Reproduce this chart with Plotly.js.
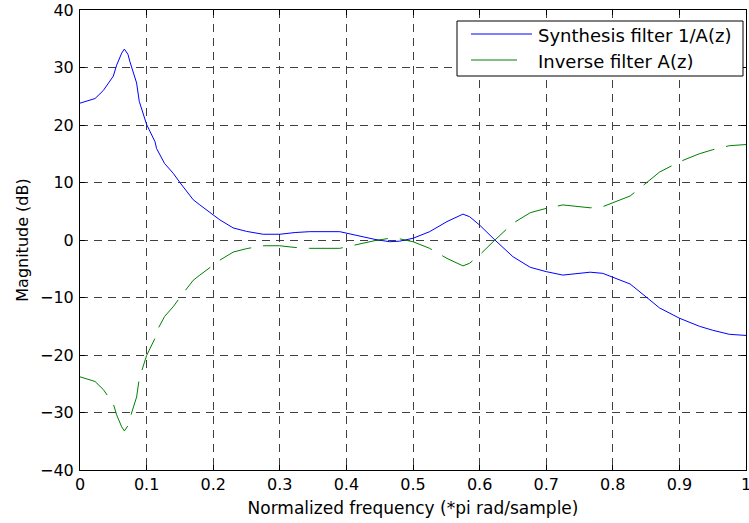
<!DOCTYPE html>
<html>
<head>
<meta charset="utf-8">
<script src="https://cdn.plot.ly/plotly-3.0.1.min.js"></script>
<style>html,body{margin:0;padding:0;background:#fff;}#chart{width:749px;height:523px;}</style>
</head>
<body>
<div id="chart"></div>
<script>
// Normalized frequency (*pi rad/sample)
var freq = [0, 0.0225, 0.035, 0.05, 0.055, 0.0626, 0.0666, 0.072, 0.075, 0.085, 0.089, 0.1, 0.1126, 0.115, 0.127, 0.14, 0.15, 0.17, 0.18, 0.2, 0.21, 0.23, 0.25, 0.275, 0.3, 0.323, 0.345, 0.39, 0.4, 0.42, 0.443, 0.465, 0.48, 0.5, 0.525, 0.551, 0.575, 0.585, 0.6, 0.623, 0.65, 0.676, 0.7, 0.725, 0.75, 0.766, 0.785, 0.8, 0.826, 0.85, 0.87, 0.9, 0.93, 0.95, 0.975, 1.0];
// Synthesis filter 1/A(z) magnitude (dB)
var synthesisDb = [23.8, 24.6, 26.0, 28.5, 30.4, 32.5, 33.2, 32.3, 31.0, 27.3, 24.1, 20.1, 17.1, 15.9, 13.3, 11.6, 10.0, 7.0, 6.1, 4.3, 3.5, 2.1, 1.5, 1.0, 1.0, 1.3, 1.45, 1.45, 1.2, 0.75, 0.1, -0.3, -0.2, 0.3, 1.45, 3.2, 4.5, 4.05, 2.6, 0.0, -2.9, -4.75, -5.5, -6.1, -5.8, -5.6, -5.8, -6.5, -7.65, -9.9, -11.8, -13.6, -15.0, -15.7, -16.4, -16.6];
// Inverse filter A(z) magnitude (dB)
var inverseDb = [-23.8, -24.6, -26.0, -28.5, -30.4, -32.5, -33.2, -32.3, -31.0, -27.3, -24.1, -20.1, -17.1, -15.9, -13.3, -11.6, -10.0, -7.0, -6.1, -4.3, -3.5, -2.1, -1.5, -1.0, -1.0, -1.3, -1.45, -1.45, -1.2, -0.75, -0.1, 0.3, 0.2, -0.3, -1.45, -3.2, -4.5, -4.05, -2.6, 0.0, 2.9, 4.75, 5.5, 6.1, 5.8, 5.6, 5.8, 6.5, 7.65, 9.9, 11.8, 13.6, 15.0, 15.7, 16.4, 16.6];
var seriesNames = ['Synthesis filter 1/A(z)', 'Inverse filter A(z)'];
var seriesColors = ['#0000ff', '#008000'];
var xTicks = [0, 0.1, 0.2, 0.3, 0.4, 0.5, 0.6, 0.7, 0.8, 0.9, 1];
var xTickText = ['0', '0.1', '0.2', '0.3', '0.4', '0.5', '0.6', '0.7', '0.8', '0.9', '1'];
var yTicks = [-40, -30, -20, -10, 0, 10, 20, 30, 40];

var font = 'DejaVu Sans, Arial, sans-serif';
var W = 749, H = 523, M = {l: 80, r: 3, t: 10, b: 53};
// pixel -> paper helpers for the hand-drawn legend box
function px(x) { return (x - M.l) / (W - M.l - M.r); }
function py(y) { return (H - M.b - y) / (H - M.t - M.b); }

var traces = [
  {x: freq, y: synthesisDb, type: 'scatter', mode: 'lines', name: seriesNames[0],
   line: {color: seriesColors[0], width: 1}},
  {x: freq, y: inverseDb, type: 'scatter', mode: 'lines', name: seriesNames[1],
   line: {color: seriesColors[1], width: 1, dash: '34px,12px'}}
];
var axisCommon = {
  showline: true, linecolor: '#000', linewidth: 1, mirror: 'ticks',
  ticks: 'inside', ticklen: 5, tickcolor: '#000', tickwidth: 1,
  showgrid: true, gridcolor: '#404040', gridwidth: 1, griddash: '8px,6px',
  zeroline: false, tickfont: {family: font, size: 16, color: '#000'}
};
var shapes = [
  {type: 'rect', xref: 'paper', yref: 'paper', x0: px(457), x1: px(743), y0: py(76), y1: py(21),
   line: {color: '#000', width: 1}, fillcolor: '#fff', layer: 'above'},
  {type: 'line', xref: 'paper', yref: 'paper', x0: px(471), x1: px(532), y0: py(34), y1: py(34),
   line: {color: seriesColors[0], width: 1}, layer: 'above'},
  {type: 'line', xref: 'paper', yref: 'paper', x0: px(471), x1: px(517), y0: py(60), y1: py(60),
   line: {color: seriesColors[1], width: 1}, layer: 'above'}
];
var annotations = [
  {xref: 'paper', yref: 'paper', x: px(536), y: py(35), xanchor: 'left', yanchor: 'middle',
   text: seriesNames[0], showarrow: false, font: {family: font, size: 18, color: '#000'}},
  {xref: 'paper', yref: 'paper', x: px(536), y: py(61), xanchor: 'left', yanchor: 'middle',
   text: seriesNames[1], showarrow: false, font: {family: font, size: 18, color: '#000'}}
];
var layout = {
  width: W, height: H, margin: M,
  paper_bgcolor: '#fff', plot_bgcolor: '#fff',
  showlegend: false, shapes: shapes, annotations: annotations,
  xaxis: Object.assign({}, axisCommon, {range: [0, 1], tickmode: 'array', tickvals: xTicks, ticktext: xTickText,
    ticklabeloverflow: 'allow',
    title: {text: 'Normalized frequency (*pi rad/sample)', font: {family: font, size: 17, color: '#000'}, standoff: 8}}),
  yaxis: Object.assign({}, axisCommon, {range: [-40, 40], tickmode: 'array', tickvals: yTicks, ticklabelstandoff: 2,
    title: {text: 'Magnitude (dB)', font: {family: font, size: 16, color: '#000'}, standoff: 7}})
};
Plotly.newPlot('chart', traces, layout, {displayModeBar: false, staticPlot: true});
</script>
</body>
</html>
